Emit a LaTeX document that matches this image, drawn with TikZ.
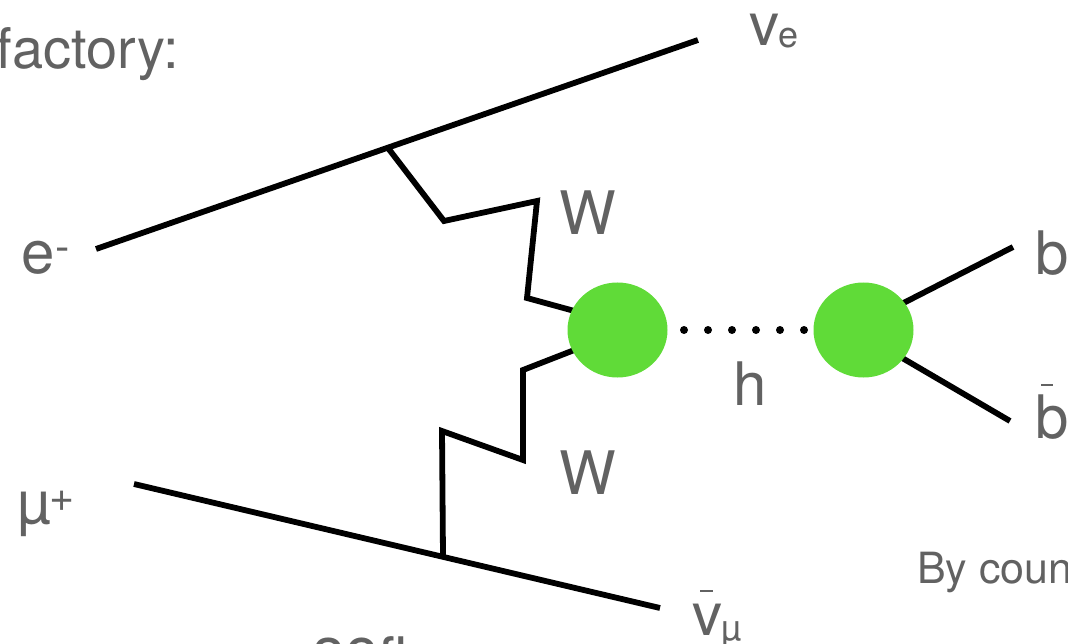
\documentclass[tikz,border=0pt]{standalone}
\usepackage{fontspec}
\setmainfont{TeX Gyre Heros}
\usetikzlibrary{shapes.geometric}
\definecolor{txt}{RGB}{98,98,98}
\definecolor{blob}{RGB}{96,219,56}
\tikzset{
  lab/.style={anchor=base west,inner sep=0pt,outer sep=0pt,text=txt,font=\fontsize{60}{60}\selectfont},
  small/.style={anchor=base west,inner sep=0pt,outer sep=0pt,text=txt,font=\fontsize{43}{43}\selectfont},
  subl/.style={anchor=base west,inner sep=0pt,outer sep=0pt,text=txt,font=\fontsize{36}{36}\selectfont},
  para/.style={anchor=base west,inner sep=0pt,outer sep=0pt,text=txt,font=\fontsize{43}{43}\selectfont},
  line/.style={draw=black,line width=5.8pt,line join=miter},
  blobn/.style={ellipse,fill=blob,draw=none,minimum width=100pt,minimum height=95pt,inner sep=0pt},
  higgs/.style={draw=black,line width=8pt,line cap=round,dash pattern=on 0pt off 24pt},
  barl/.style={draw=txt,line width=2.6pt}
}
\begin{document}
\begin{tikzpicture}[x=1pt,y=-1pt]
\useasboundingbox (0,0) rectangle (1068,644);
% free ends and vertices
\coordinate (eIn) at (96,249);
\coordinate (nuOut) at (698,40);
\coordinate (v1) at (388,148);
\coordinate (muIn) at (134,484);
\coordinate (nuBarOut) at (660,608);
\coordinate (v2) at (443,556);
\coordinate (bOut) at (1013,247);
\coordinate (bBarOut) at (1010,421);
\coordinate (h1a) at (600,318);
\coordinate (h1b) at (600,340);
\coordinate (h2a) at (880,315);
\coordinate (h2b) at (880,345);
\coordinate (dotA) at (684,330);
\coordinate (dotB) at (806,330);
% lines under the blobs
\draw[line] (eIn) -- (nuOut);
\draw[line] (muIn) -- (nuBarOut);
\draw[line] (v1) -- (444,221) -- (537,201) -- (527,298) -- (h1a);
\draw[line] (v2) -- (442,431) -- (523,460) -- (523,370) -- (h1b);
\draw[line] (h2a) -- (bOut);
\draw[line] (h2b) -- (bBarOut);
% blobs
\node[blobn] (h1) at (617.5,330) {};
\node[blobn] (h2) at (863.5,330) {};
\draw[higgs] (dotA) -- (dotB);
% labels
\node[anchor=base west,inner sep=0pt,outer sep=0pt,text=txt,font=\fontsize{56}{56}\selectfont] (tf) at (-3,69) {factory:};
\node[lab] (tve) at (749,46) {v};
\node[subl] (tves) at (778,48) {e};
\node[lab] (te) at (21,274) {e};
\node[small] (tem) at (55,262) {-};
\node[lab] (tW1) at (559,235) {W};
\node[lab] (tW2) at (559,494) {W};
\node[lab] (th) at (733,405) {h};
\node[lab] (tb) at (1035,275) {b};
\node[lab] (tbb) at (1035,438) {b};
\draw[barl] (1041,385) -- (1053,385);
\node[lab] (tmu) at (17,523) {µ};
\node[small] (tmup) at (49,511) {+};
\node[lab] (tvb) at (692,635) {v};
\draw[barl] (700,591) -- (713,591);
\node[subl] (tvbs) at (721,640) {µ};
\node[para] (tby) at (917,583) {By coun};
\node[lab] (tfb) at (312,680) {38fb};
\end{tikzpicture}
\end{document}
